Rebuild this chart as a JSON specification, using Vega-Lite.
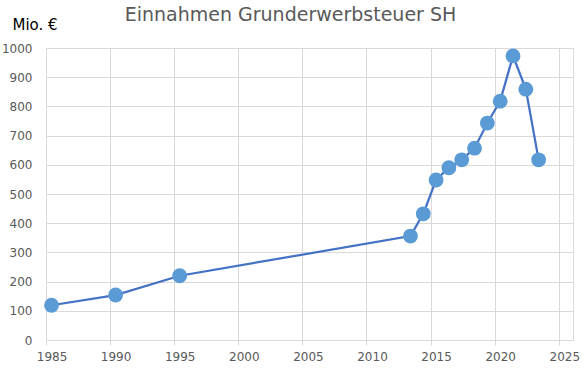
{
  "$schema": "https://vega.github.io/schema/vega-lite/v6.json",
  "width": 527,
  "height": 292,
  "autosize": {"type": "none"},
  "padding": {"left": 46, "top": 48, "right": 15, "bottom": 32},
  "background": "white",
  "title": {
    "text": "Einnahmen Grunderwerbsteuer SH",
    "font": "DejaVu Sans",
    "fontSize": 19,
    "fontWeight": "normal",
    "color": "#595959",
    "anchor": "middle",
    "frame": "group",
    "dx": -19,
    "dy": 18,
    "offset": 10
  },
  "config": {
    "view": {"stroke": "#d9d9d9", "strokeWidth": 1},
    "font": "DejaVu Sans"
  },
  "data": {
    "values": [
      {"jahr": 1985, "mio": 119},
      {"jahr": 1990, "mio": 154},
      {"jahr": 1995, "mio": 220},
      {"jahr": 2013, "mio": 356},
      {"jahr": 2014, "mio": 432},
      {"jahr": 2015, "mio": 548},
      {"jahr": 2016, "mio": 590},
      {"jahr": 2017, "mio": 617},
      {"jahr": 2018, "mio": 657},
      {"jahr": 2019, "mio": 743},
      {"jahr": 2020, "mio": 818},
      {"jahr": 2021, "mio": 973},
      {"jahr": 2022, "mio": 859},
      {"jahr": 2023, "mio": 617}
    ]
  },
  "encoding": {
    "x": {
      "field": "jahr",
      "type": "quantitative",
      "scale": {"domain": [1984.57, 2025.68], "nice": false, "zero": false},
      "axis": {
        "title": null,
        "values": [1985, 1990, 1995, 2000, 2005, 2010, 2015, 2020, 2025],
        "format": "d",
        "labelFont": "DejaVu Sans",
        "labelFontSize": 12,
        "labelColor": "#595959",
        "labelPadding": 6,
        "tickColor": "#d9d9d9",
        "tickSize": 5,
        "tickOffset": -5.5,
        "labelOffset": 5.5,
        "domainColor": "#d9d9d9",
        "gridColor": "#d9d9d9",
        "grid": true
      }
    },
    "y": {
      "field": "mio",
      "type": "quantitative",
      "scale": {"domain": [0, 1000], "nice": false},
      "axis": {
        "title": "Mio. €",
        "titleFont": "DejaVu Sans",
        "titleFontSize": 15,
        "titleFontWeight": "normal",
        "titleColor": "#000000",
        "titleAngle": 0,
        "titleAlign": "left",
        "titleBaseline": "alphabetic",
        "titleX": -34,
        "titleY": -19,
        "values": [0, 100, 200, 300, 400, 500, 600, 700, 800, 900, 1000],
        "format": "d",
        "labelFont": "DejaVu Sans",
        "labelFontSize": 12,
        "labelColor": "#595959",
        "labelPadding": 14,
        "ticks": false,
        "domain": false,
        "gridColor": "#d9d9d9",
        "grid": true
      }
    }
  },
  "layer": [
    {"mark": {"type": "line", "color": "#4472C4", "strokeWidth": 2.25}},
    {"mark": {"type": "point", "filled": true, "opacity": 1, "color": "#5B9BD5", "size": 220}}
  ]
}
